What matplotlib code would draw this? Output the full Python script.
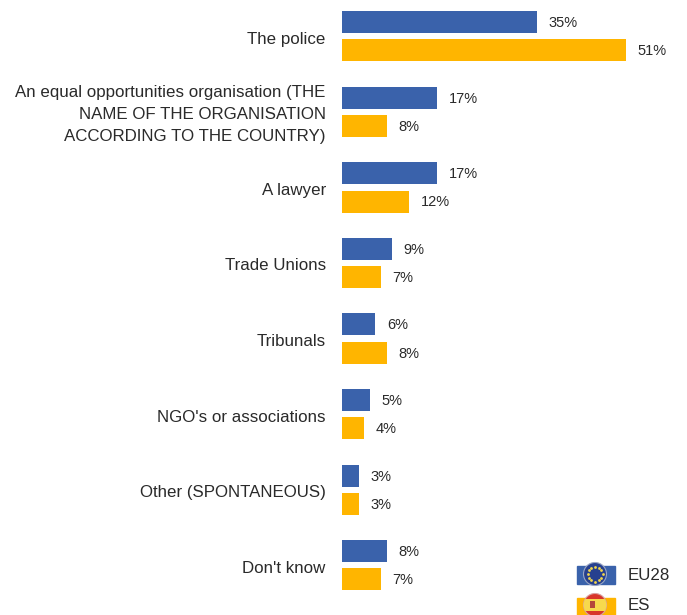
import matplotlib
matplotlib.use("Agg")
import matplotlib.pyplot as plt
import numpy as np
from matplotlib.patches import Circle, Rectangle

# values
categories = [
    "The police",
    "An equal opportunities organisation (THE\nNAME OF THE ORGANISATION\nACCORDING TO THE COUNTRY)",
    "A lawyer",
    "Trade Unions",
    "Tribunals",
    "NGO's or associations",
    "Other (SPONTANEOUS)",
    "Don't know",
]
eu28 = [35, 17, 17, 9, 6, 5, 3, 8]
es = [51, 8, 12, 7, 8, 4, 3, 7]
legend_labels = ["EU28", "ES"]

BLUE = "#3A62AB"
YELLOW = "#FFB500"
TEXT = "#2A2A2A"

plt.rcParams["font.family"] = ["Liberation Sans", "DejaVu Sans"]

W, H = 687, 615
fig = plt.figure(figsize=(W / 100, H / 100), dpi=100)
# axes box in pixels: x 342..687, y 0..615
ax = fig.add_axes([342 / W, 0, 345 / W, 1])
ax.set_xlim(0, 345 / 5.57)
ax.set_ylim(615, 0)
ax.axis("off")

step = 75.6
y = 36.0 + step * np.arange(len(categories))

ax.barh(y - 14, eu28, height=22, color=BLUE)
ax.barh(y + 14.3, es, height=22, color=YELLOW)

for i in range(len(categories)):
    ax.text(eu28[i] + 2.1, y[i] - 13, f"{eu28[i]}%", va="center", ha="left", fontsize=10.5, color=TEXT)
    ax.text(es[i] + 2.1, y[i] + 15.2, f"{es[i]}%", va="center", ha="left", fontsize=10.5, color=TEXT)
    ax.text(-2.9, y[i] + 3.2, categories[i], va="center", ha="right", fontsize=12.15, color=TEXT, linespacing=1.58)

# legend with little flags
leg = fig.add_axes([0, 0, 1, 1])
leg.set_xlim(0, W)
leg.set_ylim(H, 0)
leg.axis("off")
leg.patch.set_alpha(0)

# EU flag
leg.add_patch(Rectangle((577, 566), 38, 18, color=BLUE))
leg.add_patch(Circle((595, 574), 11.5, facecolor="#27408F", edgecolor="#9AA6C4", lw=0.8))
angles = np.linspace(0, 2 * np.pi, 12, endpoint=False)
leg.scatter(595 + 7.5 * np.cos(angles), 574 + 7.5 * np.sin(angles), s=4, color="#F2D64B", linewidths=0, zorder=3)

# Spanish flag
leg.add_patch(Rectangle((577, 598), 38, 17, color=YELLOW))
disc = Circle((595, 605), 11.5, facecolor="#D8352A", edgecolor="#D9A0A0", lw=0.8)
leg.add_patch(disc)
band = Rectangle((583, 599), 24, 12, facecolor="#F7D94C", edgecolor="none", zorder=3)
leg.add_patch(band)
band.set_clip_path(disc)
leg.add_patch(Rectangle((590, 601), 5, 7, facecolor="#B5473A", edgecolor="none", zorder=4))

leg.text(628, 576, legend_labels[0], va="center", ha="left", fontsize=12.15, color=TEXT)
leg.text(628, 606, legend_labels[1], va="center", ha="left", fontsize=12.15, color=TEXT)

fig.savefig("out.png", dpi=100)
